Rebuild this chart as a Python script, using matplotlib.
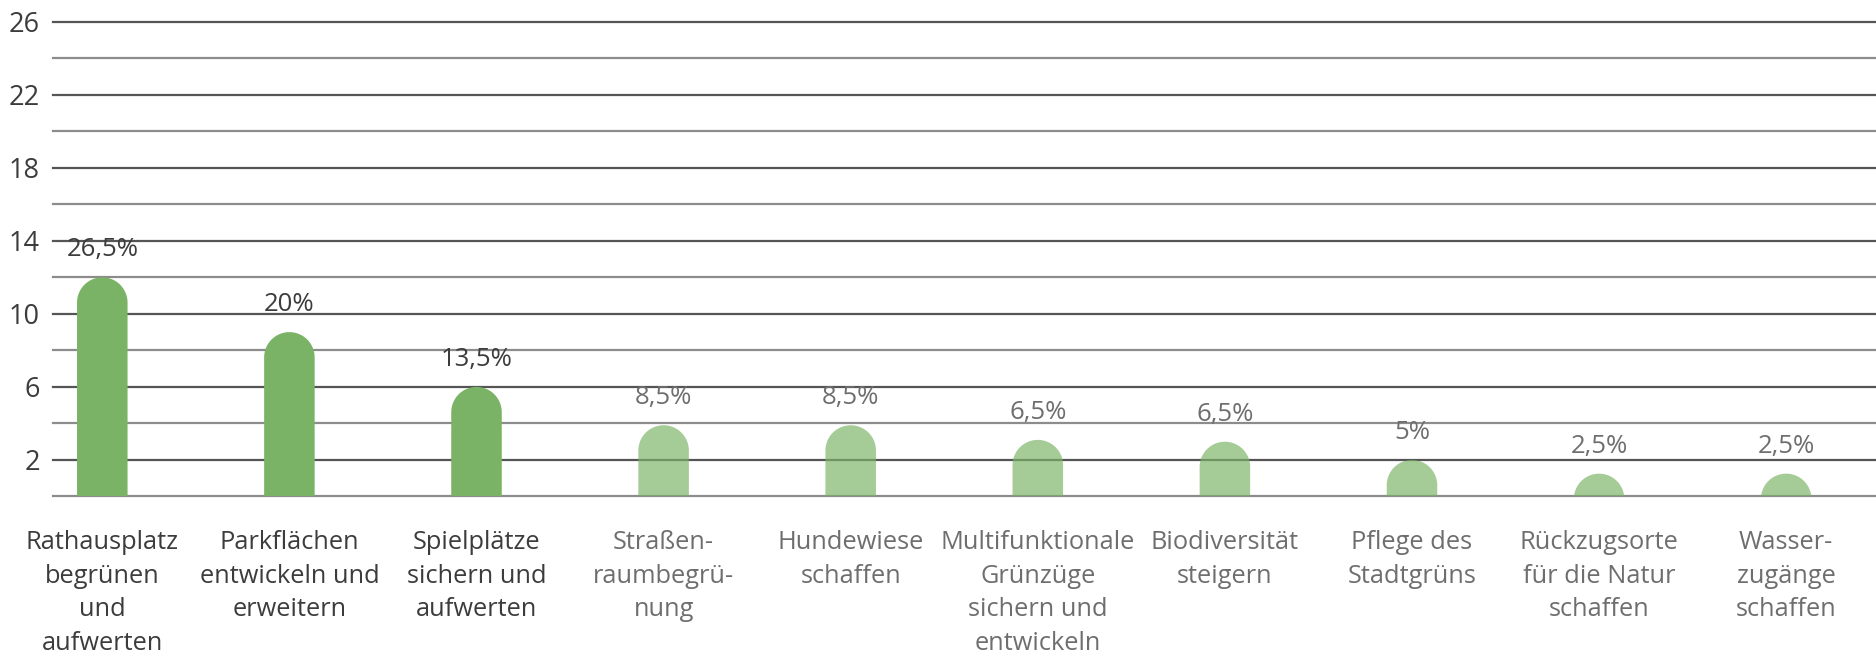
import numpy as np
import matplotlib.pyplot as plt
from matplotlib.patches import PathPatch
from matplotlib.path import Path

plt.rcParams['font.family'] = ['Open Sans', 'DejaVu Sans']

categories = [
    "Rathausplatz\nbegrünen\nund\naufwerten",
    "Parkflächen\nentwickeln und\nerweitern",
    "Spielplätze\nsichern und\naufwerten",
    "Straßen-\nraumbegrü-\nnung",
    "Hundewiese\nschaffen",
    "Multifunktionale\nGrünzüge\nsichern und\nentwickeln",
    "Biodiversität\nsteigern",
    "Pflege des\nStadtgrüns",
    "Rückzugsorte\nfür die Natur\nschaffen",
    "Wasser-\nzugänge\nschaffen",
]
values = [12, 9, 6, 3.9, 3.9, 3.1, 3.0, 2.0, 1.25, 1.25]
shares = ["26,5%", "20%", "13,5%", "8,5%", "8,5%", "6,5%", "6,5%", "5%", "2,5%", "2,5%"]
top3 = [True, True, True, False, False, False, False, False, False, False]
yticks = [2, 6, 10, 14, 18, 22, 26]

green = '#7ab366'
dark_txt = '#3c3c3c'
light_txt = '#6e6e6e'

fig = plt.figure(figsize=(18.76, 6.55), dpi=100)
ax_rect = [0.028, 0.242, 0.972, 0.725]
ax = fig.add_axes(ax_rect)
xmin, xmax = -0.266, 9.48
ax.set_xlim(xmin, xmax)
ax.set_ylim(0, 26)

# gridlines every 2 units, labelled ones a bit darker
for g in range(0, 27, 2):
    col = '#555555' if g in yticks else '#8c8c8c'
    ax.axhline(g, color=col, lw=1.6, zorder=1, clip_on=False)

# bars with rounded tops, one path each (cap radius round on screen)
w = 0.27
px_x = fig.get_figwidth() * fig.dpi * ax_rect[2] / (xmax - xmin)
px_y = fig.get_figheight() * fig.dpi * ax_rect[3] / 26
ry = (w / 2) * px_x / px_y
t = np.linspace(np.pi, 0, 40)
for i, (v, hl) in enumerate(zip(values, top3)):
    cy = v - ry
    xs = np.concatenate([[i - w / 2], i + (w / 2) * np.cos(t), [i + w / 2]])
    ys = np.concatenate([[min(cy, 0) - 1], cy + ry * np.sin(t), [min(cy, 0) - 1]])
    verts = np.column_stack([xs, ys])
    patch = PathPatch(Path(verts, closed=False), facecolor=green, lw=0,
                      alpha=1.0 if hl else 0.68, zorder=2 if hl else 3)
    ax.add_patch(patch)
    tc = dark_txt if hl else light_txt
    ax.text(i, v + 1.5, shares[i], ha='center', va='center', fontsize=18.5,
            color=tc)
    ax.text(i, -1.85, categories[i], ha='center', va='top', fontsize=18.3,
            color=tc, linespacing=1.45, clip_on=False)

ax.set_xticks([])
ax.set_yticks(yticks)
ax.set_yticklabels([str(t) for t in yticks], fontsize=19.5, color='#3c3c3c')
ax.tick_params(axis='y', length=0, pad=9)
for s in ax.spines.values():
    s.set_visible(False)

fig.savefig('out.png', dpi=100)
